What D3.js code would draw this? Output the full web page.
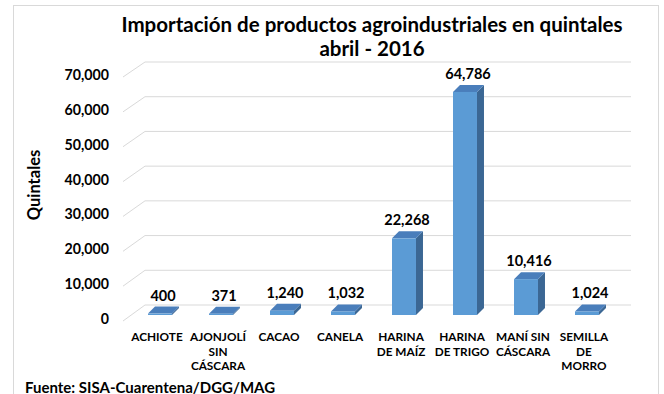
<!DOCTYPE html>
<html>
<head>
<meta charset="utf-8">
<script src="https://cdn.jsdelivr.net/npm/d3@7"></script>
<style>
  html, body { margin: 0; padding: 0; background: #fff; }
  svg { display: block; }
  text { font-family: Lato, "Open Sans", sans-serif; font-weight: 700; fill: #000; }
</style>
</head>
<body>
<svg id="chart" width="664" height="394"></svg>
<script>
// Imported agro-industrial products, quintals, April 2016
const categories = ["ACHIOTE", "AJONJOLÍ SIN CÁSCARA", "CACAO", "CANELA",
  "HARINA DE MAÍZ", "HARINA DE TRIGO", "MANÍ SIN CÁSCARA", "SEMILLA DE MORRO"];
const categoryLines = [["ACHIOTE"], ["AJONJOLÍ", "SIN", "CÁSCARA"], ["CACAO"], ["CANELA"],
  ["HARINA", "DE MAÍZ"], ["HARINA", "DE TRIGO"], ["MANÍ SIN", "CÁSCARA"], ["SEMILLA", "DE", "MORRO"]];
const quintales = [400, 371, 1240, 1032, 22268, 64786, 10416, 1024];
const yTicks = [0, 10000, 20000, 30000, 40000, 50000, 60000, 70000];

const titleLines = ["Importación de productos agroindustriales en quintales", "abril - 2016"];
const yTitle = "Quintales";
const source = "Fuente: SISA-Cuarentena/DGG/MAG";

const svg = d3.select("#chart");
const fmt = d3.format(",");

// chart frame
svg.append("rect")
  .attr("x", 13.5).attr("y", 5.5).attr("width", 645).attr("height", 400)
  .attr("fill", "#fff").attr("stroke", "#d9d9d9").attr("stroke-width", 1);

// pseudo-3D geometry: front plane, back wall plane, and the plane the columns sit in
const wallFrontX = 123, wallBackX = 145, wallRight = 631;
const yFront = d3.scaleLinear().domain([0, 70000]).range([321, 77]);
const yBack = d3.scaleLinear().domain([0, 70000]).range([305, 62]);
const yBar = d3.scaleLinear().domain([0, 70000]).range([315, 74]);

const x = d3.scaleBand().domain(categories)
  .range([129.5, 617.5]).paddingInner(0.607).paddingOuter(0.3035);
const bw = x.bandwidth();
const depthX = 7, depthY = -7;

// side wall and back wall gridlines
const grid = svg.append("g").attr("stroke", "#d9d9d9").attr("stroke-width", 1).attr("fill", "none");
yTicks.forEach(t => {
  grid.append("path")
    .attr("d", `M${wallFrontX},${yFront(t)}L${wallBackX},${yBack(t)}L${wallRight},${yBack(t)}`);
});

// y tick labels
svg.append("g").selectAll("text").data(yTicks).join("text")
  .attr("x", 109).attr("y", d => yFront(d) - 2).attr("dy", "0.35em")
  .attr("text-anchor", "end").attr("font-size", 14.2)
  .text(d => fmt(d));

// y axis title
svg.append("text")
  .attr("transform", "translate(40,185) rotate(-90)")
  .attr("text-anchor", "middle").attr("font-size", 16.5)
  .text(yTitle);

// columns: front, side and top faces
const bars = svg.append("g");
categories.forEach((c, i) => {
  const v = quintales[i];
  const x0 = x(c), x1 = x0 + bw;
  const yt = yBar(v), yb = yBar(0);
  bars.append("path")
    .attr("d", `M${x1},${yb}L${x1 + depthX},${yb + depthY}L${x1 + depthX},${yt + depthY}L${x1},${yt}Z`)
    .attr("fill", "#3b6794");
  bars.append("path")
    .attr("d", `M${x0},${yt}L${x0 + depthX},${yt + depthY}L${x1 + depthX},${yt + depthY}L${x1},${yt}Z`)
    .attr("fill", "#4a7ebb");
  bars.append("rect")
    .attr("x", x0).attr("y", yt).attr("width", bw).attr("height", Math.max(0, yb - yt))
    .attr("fill", "#5b9bd5");
});

// value labels
svg.append("g").selectAll("text").data(categories).join("text")
  .attr("x", c => x(c) + bw / 2 + 3)
  .attr("y", (c, i) => yBar(quintales[i]) + depthY - 6)
  .attr("text-anchor", "middle").attr("font-size", 14.5)
  .text((c, i) => fmt(quintales[i]));

// category labels
const catG = svg.append("g");
categories.forEach((c, i) => {
  const t = catG.append("text")
    .attr("x", x(c) + bw / 2 - 3).attr("y", 341)
    .attr("text-anchor", "middle").attr("font-size", 11.8);
  categoryLines[i].forEach((line, j) => {
    t.append("tspan").attr("x", x(c) + bw / 2 - 3).attr("dy", j === 0 ? 0 : 14.6).text(line);
  });
});

// chart title
svg.append("g").selectAll("text").data(titleLines).join("text")
  .attr("x", 372).attr("y", (d, i) => 32 + i * 24)
  .attr("text-anchor", "middle").attr("font-size", 20.5)
  .text(d => d);

// source note
svg.append("text")
  .attr("x", 25).attr("y", 392.5).attr("font-size", 15)
  .text(source);
</script>
</body>
</html>
